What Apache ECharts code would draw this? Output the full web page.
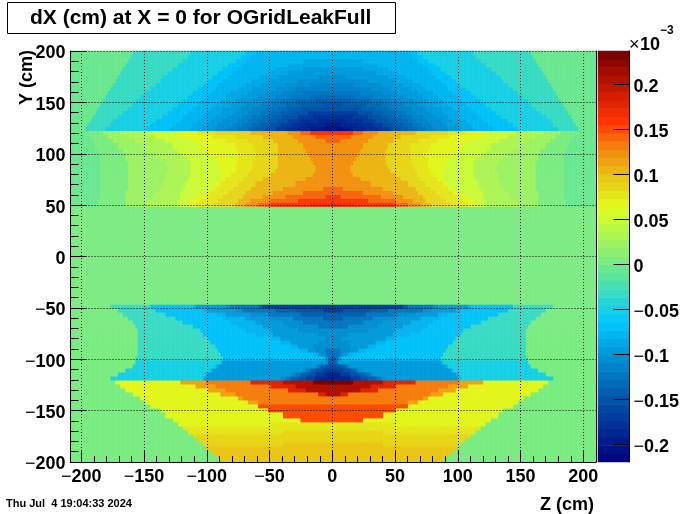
<!DOCTYPE html>
<html><head><meta charset="utf-8">
<style>html,body{margin:0;padding:0;background:#fff}#c{width:700px;height:514px}</style>
<script src="https://cdn.jsdelivr.net/npm/echarts@6/dist/echarts.min.js"></script>
</head><body><div id="c"></div>
<script>
const titleText = 'dX (cm) at X = 0 for OGridLeakFull';
const dateText = 'Thu Jul  4 19:04:33 2024';
const xTicks = [-200,-150,-100,-50,0,50,100,150,200];
const yTicks = [-200,-150,-100,-50,0,50,100,150,200];
const xMinor = [-200,-190,-180,-170,-160,-140,-130,-120,-110,-90,-80,-70,-60,-40,-30,-20,-10,10,20,30,40,60,70,80,90,110,120,130,140,160,170,180,190,200];
const yMinor = [-190,-180,-170,-160,-140,-130,-120,-110,-90,-80,-70,-60,-40,-30,-20,-10,10,20,30,40,60,70,80,90,110,120,130,140,160,170,180,190];
const barTicks = [-0.2,-0.15,-0.1,-0.05,0,0.05,0.1,0.15,0.2];
const valueMin = -0.2197, valueMax = 0.2369, bandCount = 50;
const paletteStops = [[-0.22,0,0,125],[-0.19,0,35,145],[-0.15,0,85,170],[-0.1,0,150,215],[-0.065,0,200,255],[-0.03,60,220,190],[0,115,235,135],[0.03,170,245,85],[0.063,225,255,30],[0.1,235,190,20],[0.13,245,130,15],[0.16,255,50,0],[0.2,190,20,0],[0.237,110,0,0]];

// Each region: y range, value outside every cut, values inside successive cuts,
// and per row (top to bottom) the |Z| cut for each of those values.
const baseA = -0.009, yRangeA = [200, 122];
const levelsA = [-.028,-.05,-.065,-.076,-.085,-.095,-.105,-.115,-.125,-.135,-.145,-.155,-.165,-.175,-.185,-.195,-.205];
const rowsA = [
[158,112,69,62],[160,115,73,65],[162,119,77,69,24],[164,123,82,72,36],[166,126,86,76,45,24],
[168,130,90,79,52,35],[170,134,94,83,59,44,11],[172,137,98,86,65,51,28],[174,141,102,90,70,57,38,17],
[176,145,106,93,75,63,46,30],[178,148,111,97,80,68,53,39,23],[180,152,115,100,84,73,59,46,33,18],
[182,156,119,104,88,77,64,52,41,30,14],[184,159,123,107,92,81,69,58,47,38,26,8],
[186,163,127,111,96,86,74,63,53,44,35,23],[188,167,131,114,100,89,78,67,58,50,41,32,20],
[190,170,135,118,103,93,82,72,63,55,47,39,28,16],[192,174,140,121,107,97,86,76,67,60,52,44,35,25,11],
[195,177,144,125,110,100,90,79,71,64,57,49,41,32,21,6],[197,181,148,128,113,103,93,83,75,68,61,54,46,38,27,17,8]];
const baseB = -0.005, yRangeB = [122, 48.3];
const levelsB = [.008,.018,.035,.05,.065,.075,.09,.108,.122,.14,.155,.165];
const rowsB = [
[196,183,169,147,125,106,92,66,36,25,17],[193,178,162,140,118,94,78,55,32,14],[190,174,156,133,111,84,68,48,28,6],
[188,170,150,127,105,78,63,44,24],[186,167,145,122,100,76,62,43,22],[185,165,140,118,96,75,62,43,20],
[184,164,136,115,93,76,62,43,18],[184,163,133,113,91,76,63,43,16],[184,163,131,112,89,77,64,44,14],
[184,163,131,112,88,78,66,46,14],[184,163,132,113,88,80,68,50,16],[184,163,133,114,89,84,71,55,22],
[184,163,135,116,92,88,75,61,30],[184,163,137,118,97,93,79,66,40,8],[185,164,140,120,103,97,83,69,48,24],
[185,164,143,121,108,101,87,72,56,38,6],[186,165,146,122,112,105,91,75,65,50,28],[187,165,148,123,115,108,94,78,70,60,50,18]];
const baseC = 0, yRangeC = [-46.7, -120.7];
const levelsC = [-.028,-.05,-.065,-.08,-.095,-.11,-.125,-.14,-.155,-.17,-.185];
const rowsC = [
[176,145,145,110,108,84,80,60,58,56],[170,140,140,102,98,78,72,45,30,8],[166,132,132,92,84,66,52,26],
[162,125,125,86,70,50,32,8],[159,118,118,80,62,40,24],[157,110,110,76,56,36,12],[155,105,105,70,50,28],
[155,102,102,62,48,12],[155,99,99,50,42,6],[155,96,96,42,34,12],[155,93,93,34,28,15],[155,90,90,26,20,14,6],
[155,88,88,16,12,9,6],[156,87,87,8,6,5,4,2],[156,156,88,88,86,5,4,3],[158,158,92,92,90,14,12,10,6],
[164,164,96,96,94,24,21,18,14,8],[170,170,100,100,98,33,30,26,20,14,6],[176,176,103,103,101,42,38,34,28,22,14]];
const baseD = 0, yRangeD = [-120.7, -200];
const levelsD = [.065,.075,.085,.095,.115,.13,.15,.175,.205,.235];
const rowsD = [
[173,0,0,0,120,100,0,66,40,16],[168,0,0,0,108,92,0,50,30],[164,0,0,0,98,84,0,36,22],[158,0,0,0,88,78,0,12,6],
[153,0,0,0,76,72],[148,0,0,0,68,60],[144,0,0,0,0,0,60],[137,0,0,0,0,0,51],[132,0,0,0,0,0,40],[127,0,0,0,0,0,25],
[122,50],[118,118],[114,114,40],[110,110,110],[107,107,107],[103,103,103,40],[100,100,100,100],[96,96,96,96],[92,92,92,92],[88,88,88,88]];
const regions = [[yRangeA,baseA,levelsA,rowsA],[yRangeB,baseB,levelsB,rowsB],[yRangeC,baseC,levelsC,rowsC],[yRangeD,baseD,levelsD,rowsD]];

const xMin=-208.6,xMax=210.1,yMin=-200,yMax=200,nCols=210,nRows=206;
const xCats=[],yCats=[],cells=[];
for(let i=0;i<nCols;i++)xCats.push(String(i));
for(let j=0;j<nRows;j++)yCats.push(String(j));
for(let j=0;j<nRows;j++){
  const y=yMin+(j+.5)*(yMax-yMin)/nRows;
  const reg=regions.find(r=>y<=r[0][0]&&y>r[0][1]);
  for(let i=0;i<nCols;i++){
    const z=Math.abs(xMin+(i+.5)*(xMax-xMin)/nCols);
    let v=0;
    if(reg){
      const row=reg[3][Math.min(reg[3].length-1,Math.floor((reg[0][0]-y)/(reg[0][0]-reg[0][1])*reg[3].length))];
      v=reg[1];
      row.forEach((c,k)=>{if(z<c)v=reg[2][k];});
    }
    cells.push([i,j,v]);
  }
}
function colorAt(v){
  let s=paletteStops;
  if(v<=s[0][0])return `rgb(${s[0].slice(1)})`;
  for(let k=1;k<s.length;k++){
    if(v<=s[k][0]){
      const t=(v-s[k-1][0])/(s[k][0]-s[k-1][0]);
      const c=[1,2,3].map(n=>Math.round(s[k-1][n]+t*(s[k][n]-s[k-1][n])));
      return `rgb(${c})`;
    }
  }
  return `rgb(${s[s.length-1].slice(1)})`;
}
const step=(valueMax-valueMin)/bandCount;
const pieces=[],barCats=[],barCells=[];
for(let b=0;b<bandCount;b++){
  const lo=valueMin+b*step,hi=lo+step;
  pieces.push({gte:b===0?-1:lo,lt:b===bandCount-1?1:hi,color:colorAt((lo+hi)/2)});
  barCats.push(String(b));
  barCells.push([0,b,(lo+hi)/2]);
}
const fmt=v=>{const a=String(Math.abs(v));return v<0?`{m|\u2212}{n|${a}}`:`{n|${a}}`;};
const rich={m:{fontFamily:'Liberation Sans',fontSize:18,fontWeight:'normal',color:'#000'},n:{fontFamily:'Liberation Sans',fontSize:18,fontWeight:'bold',color:'#000'}};
const line={lineStyle:{color:'#000',width:1}};
const chart=echarts.init(document.getElementById('c'),null,{renderer:'canvas'});
chart.setOption({
  animation:false,backgroundColor:'#fff',
  title:{text:titleText,left:7,top:2,padding:[6,24,5,23],borderColor:'#000',borderWidth:1,
    textStyle:{fontFamily:'Liberation Sans',fontSize:21,fontWeight:'bold',color:'#000'}},
  tooltip:{show:false},
  grid:[{left:70.5,top:51,width:525.5,height:411,containLabel:false,outerBoundsMode:'none'},{left:598,top:51,width:31.5,height:411,outerBoundsMode:'none'}],
  xAxis:[
    {type:'category',gridIndex:0,data:xCats,show:false},
    {type:'value',gridIndex:0,min:xMin,max:xMax,position:'bottom',z:10,axisLine:{show:true,onZero:false,...line},
      axisTick:{show:true,inside:true,length:12,customValues:xTicks,...line},
      axisLabel:{customValues:xTicks,formatter:fmt,rich,margin:6,hideOverlap:false},
      splitLine:{show:true,lineStyle:{color:'#000',type:[1,2],width:1}},
      name:'Z (cm)',nameLocation:'end',nameGap:0,
      nameTextStyle:{fontFamily:'Liberation Sans',fontSize:18,fontWeight:'bold',color:'#000',align:'right',verticalAlign:'top',padding:[34,2,0,0]}},
    {type:'value',gridIndex:0,min:xMin,max:xMax,position:'bottom',z:10,axisLine:{show:false,onZero:false},
      axisTick:{show:true,inside:true,length:6,customValues:xMinor,...line},axisLabel:{show:false},splitLine:{show:false}},
    {type:'category',gridIndex:1,data:['0'],show:false}
  ],
  yAxis:[
    {type:'category',gridIndex:0,data:yCats,show:false},
    {type:'value',gridIndex:0,min:yMin,max:yMax,position:'left',z:10,axisLine:{show:true,onZero:false,...line},
      axisTick:{show:true,inside:true,length:16,customValues:yTicks,...line},
      axisLabel:{customValues:yTicks,formatter:fmt,rich,margin:5,hideOverlap:false,padding:[5,0,0,0]},
      splitLine:{show:true,lineStyle:{color:'#000',type:[1,2],width:1}}},
    {type:'value',gridIndex:0,min:yMin,max:yMax,position:'left',z:10,axisLine:{show:false,onZero:false},
      axisTick:{show:true,inside:true,length:8,customValues:yMinor,...line},axisLabel:{show:false},splitLine:{show:false}},
    {type:'value',gridIndex:0,min:yMin,max:yMax,position:'right',z:10,axisLine:{show:true,onZero:false,...line},
      axisTick:{show:false},axisLabel:{show:false},splitLine:{show:false}},
    {type:'category',gridIndex:1,data:barCats,show:false},
    {type:'value',gridIndex:1,min:valueMin,max:valueMax,position:'right',z:10,axisLine:{show:true,onZero:false,...line},
      axisTick:{show:true,inside:true,length:16,customValues:barTicks,...line},
      axisLabel:{customValues:barTicks,formatter:fmt,rich,margin:4,hideOverlap:false,padding:[5,0,0,0]},splitLine:{show:false}}
  ],
  visualMap:{type:'piecewise',show:false,pieces,seriesIndex:[0,1],dimension:2},
  series:[
    {type:'heatmap',xAxisIndex:0,yAxisIndex:0,data:cells,progressive:0,silent:true,itemStyle:{borderWidth:0}},
    {type:'heatmap',xAxisIndex:3,yAxisIndex:4,data:barCells,progressive:0,silent:true,itemStyle:{borderWidth:0}}
  ],
  graphic:[
    {type:'text',left:6,top:498,style:{text:dateText,font:'bold 11px "Liberation Sans"',fill:'#000'}},
    {type:'text',x:27,y:50,rotation:Math.PI/2,style:{text:'Y (cm)',font:'bold 18px "Liberation Sans"',fill:'#000',align:'right',verticalAlign:'middle'}},
    {type:'text',left:629,top:36,style:{text:'\u00d7',font:'18px "Liberation Sans"',fill:'#000'}},
    {type:'text',left:640,top:36,style:{text:'10',font:'bold 18px "Liberation Sans"',fill:'#000'}},
    {type:'text',left:660,top:25,style:{text:'\u22123',font:'bold 12px "Liberation Sans"',fill:'#000'}}
  ]
});
</script></body></html>
